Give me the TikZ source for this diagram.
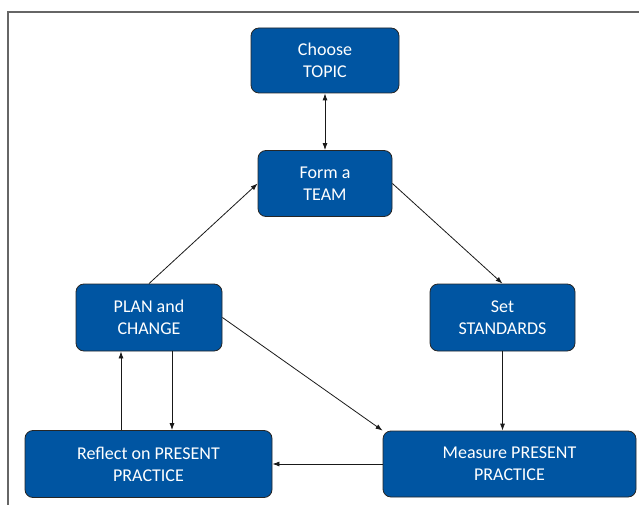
\documentclass[tikz,border=0pt]{standalone}
\usepackage{fontspec}
\setmainfont{Carlito}
\usetikzlibrary{arrows.meta}
\definecolor{boxblue}{RGB}{0,85,162}
\tikzset{
  stage/.style={draw=black!85, line width=0.8pt, fill=boxblue, rounded corners=8pt,
    text=white, align=center, inner sep=2pt, font=\fontsize{18}{22}\selectfont},
  link/.style={-{Latex[length=7pt,width=5pt]}, line width=0.8pt, black!90}
}
\begin{document}
\begin{tikzpicture}[x=1pt,y=1pt]
  \useasboundingbox (0,0) rectangle (639,504);
  \draw[black!60, line width=1.2pt] (8,-2) -- (8,492) -- (641,492);
  \node[stage, minimum width=148pt, minimum height=65pt] (topic) at (325,443.5) {Choose\\TOPIC};
  \node[stage, minimum width=134pt, minimum height=66pt] (team) at (325,320.5) {Form a\\TEAM};
  \node[stage, minimum width=146pt, minimum height=67pt] (plan) at (149,186.5) {PLAN and\\CHANGE};
  \node[stage, minimum width=145pt, minimum height=67pt] (standards) at (502.5,186.5) {Set\\STANDARDS};
  \node[stage, minimum width=247pt, minimum height=67pt] (reflect) at (148.5,40) {Reflect on PRESENT\\PRACTICE};
  \node[stage, minimum width=253pt, minimum height=66pt] (measure) at (509.5,40) {Measure PRESENT\\PRACTICE};
  \draw[link,{Latex[length=7pt,width=5pt]}-{Latex[length=7pt,width=5pt]}] (topic) -- (team);
  \draw[link] (team.east) -- (standards.north);
  \draw[link] (plan.north) -- (team.west);
  \draw[link] (plan.east) -- (measure.north west);
  \draw[link] (standards.south) -- (standards.south |- measure.north);
  \draw[link] (measure.west) -- (reflect.east);
  \draw[link] ([xshift=-27.5pt]reflect.north) -- ([xshift=-27.5pt]reflect.north |- plan.south);
  \draw[link] ([xshift=23pt]plan.south) -- ([xshift=23pt]plan.south |- reflect.north);
\end{tikzpicture}
\end{document}
